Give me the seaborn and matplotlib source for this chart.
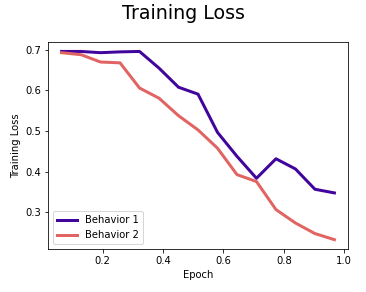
import numpy as np
import pandas as pd
import matplotlib
matplotlib.use("Agg")
import matplotlib.pyplot as plt
import seaborn as sns

# epochs (15 steps, fraction of one epoch)
epoch = [2 * i / 31 for i in range(1, 16)]

behavior_1 = [0.696, 0.696, 0.693, 0.695, 0.696, 0.655, 0.608, 0.591,
              0.497, 0.438, 0.384, 0.432, 0.407, 0.357, 0.348]
behavior_2 = [0.693, 0.688, 0.670, 0.668, 0.606, 0.581, 0.538, 0.503,
              0.458, 0.393, 0.376, 0.307, 0.274, 0.248, 0.233]

series_names = ["Behavior 1", "Behavior 2"]
colors = ["#41049d", "#e16462"]

df = pd.DataFrame({
    "Epoch": epoch * 2,
    "Training Loss": behavior_1 + behavior_2,
    "series": [series_names[0]] * len(epoch) + [series_names[1]] * len(epoch),
})

fig = plt.figure(figsize=(366 / 72, 292 / 72), dpi=72)
ax = fig.add_axes([0.131, 0.147, 0.82, 0.709])

sns.lineplot(data=df, x="Epoch", y="Training Loss", hue="series",
             palette=colors, linewidth=3, ax=ax)

ax.set_xticks([0.2, 0.4, 0.6, 0.8, 1.0])
ax.set_yticks([0.3, 0.4, 0.5, 0.6, 0.7])
ax.legend(loc="lower left", fontsize=10)
fig.suptitle("Training Loss", fontsize=19, y=0.985)

plt.savefig("out.png", dpi=72)
